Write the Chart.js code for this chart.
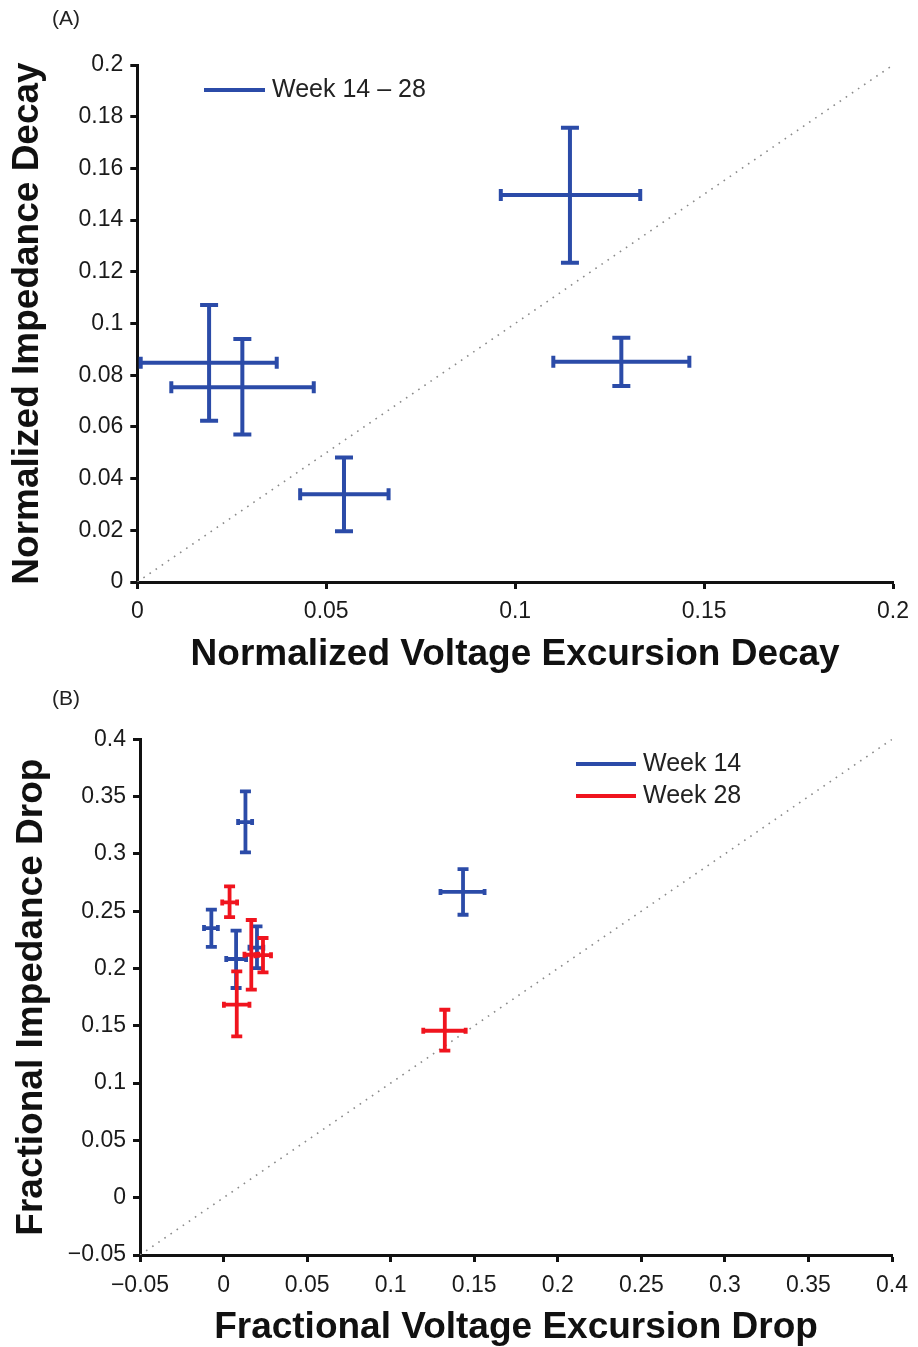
<!DOCTYPE html>
<html>
<head>
<meta charset="utf-8">
<script src="https://cdn.jsdelivr.net/npm/chart.js@4.4.1/dist/chart.umd.min.js"></script>
<style>
  body { margin: 0; background: #fff; width: 918px; height: 1347px; position: relative; overflow: hidden;
         font-family: "Liberation Sans", Arial, sans-serif; }
  canvas { position: absolute; left: 0; }
  .tag { position: absolute; left: 52px; font-size: 21px; color: #222; z-index: 2; }
</style>
</head>
<body>
<canvas id="chartA" width="918" height="690" style="top:0"></canvas>
<canvas id="chartB" width="918" height="657" style="top:690px"></canvas>
<div class="tag" style="top:6px">(A)</div>
<div class="tag" style="top:686px">(B)</div>
<script>
const FONT = '"Liberation Sans", Arial, sans-serif';
const BLUE = '#2b4ba8';
const RED = '#f0141e';

// Panel A - Week 14 - 28
const aLabel = 'Week 14 \u2013 28';
const aX    = [0.1145, 0.1281, 0.0190, 0.0278, 0.0547];
const aY    = [0.1497, 0.0852, 0.0848, 0.0753, 0.0339];
const aXLo  = [0.0962, 0.1101, 0.0009, 0.0090, 0.0431];
const aXHi  = [0.1331, 0.1461, 0.0369, 0.0467, 0.0665];
const aYLo  = [0.1235, 0.0758, 0.0624, 0.0571, 0.0196];
const aYHi  = [0.1757, 0.0945, 0.1072, 0.0940, 0.0482];

// Panel B - Week 14
const b14X   = [0.0131, 0.1433, -0.0073, 0.0075, 0.0200];
const b14Y   = [0.3278, 0.2668, 0.2353, 0.2083, 0.2182];
const b14XLo = [0.0087, 0.1298, -0.0117, 0.0016, 0.0155];
const b14XHi = [0.0171, 0.1562, -0.0034, 0.0135, 0.0238];
const b14YLo = [0.3013, 0.2469, 0.2188, 0.1830, 0.2004];
const b14YHi = [0.3545, 0.2868, 0.2513, 0.2330, 0.2367];

// Panel B - Week 28
const b28X   = [0.0036, 0.0166, 0.0236, 0.0079, 0.1324];
const b28Y   = [0.2577, 0.2120, 0.2116, 0.1684, 0.1457];
const b28XLo = [-0.0008, 0.0125, 0.0190, 0.0002, 0.1195];
const b28XHi = [0.0081, 0.0208, 0.0284, 0.0155, 0.1449];
const b28YLo = [0.2449, 0.1815, 0.1966, 0.1408, 0.1283];
const b28YHi = [0.2716, 0.2423, 0.2266, 0.1975, 0.1640];

// Axis ranges
const aRange = [0, 0.2];
const bRange = [-0.05, 0.4];

function toPoints(x, y, xLo, xHi, yLo, yHi) {
    return x.map((v, i) => ({ x: v, y: y[i], xMin: xLo[i], xMax: xHi[i], yMin: yLo[i], yMax: yHi[i] }));
}

function fmtTick(v) {
    return String(Math.round(v * 1000) / 1000).replace('-', '\u2212');
}

// Draw the crosses (x and y error bars with caps)
const errorBars = {
    id: 'errorBars',
    afterDatasetsDraw(chart, args, opts) {
        const ctx = chart.ctx;
        const xs = chart.scales.x, ys = chart.scales.y;
        chart.data.datasets.forEach(ds => {
            if (!ds.errorBars) return;
            ctx.save();
            ctx.strokeStyle = ds.borderColor;
            ctx.lineWidth = opts.width;
            ds.data.forEach(p => {
                const cx = xs.getPixelForValue(p.x), cy = ys.getPixelForValue(p.y);
                const x0 = xs.getPixelForValue(p.xMin), x1 = xs.getPixelForValue(p.xMax);
                const y0 = ys.getPixelForValue(p.yMin), y1 = ys.getPixelForValue(p.yMax);
                ctx.beginPath();
                ctx.moveTo(x0, cy); ctx.lineTo(x1, cy);
                ctx.moveTo(cx, y0); ctx.lineTo(cx, y1);
                ctx.moveTo(x0, cy - opts.capX); ctx.lineTo(x0, cy + opts.capX);
                ctx.moveTo(x1, cy - opts.capX); ctx.lineTo(x1, cy + opts.capX);
                ctx.moveTo(cx - opts.capY, y0); ctx.lineTo(cx + opts.capY, y0);
                ctx.moveTo(cx - opts.capY, y1); ctx.lineTo(cx + opts.capY, y1);
                ctx.stroke();
            });
            ctx.restore();
        });
    }
};

// Legend drawn inside the plot area
const insideLegend = {
    id: 'insideLegend',
    afterDraw(chart, args, opts) {
        const ctx = chart.ctx;
        ctx.save();
        ctx.font = opts.font;
        ctx.textBaseline = 'middle';
        ctx.fillStyle = '#222';
        let y = opts.y;
        chart.data.datasets.filter(d => d.errorBars).forEach(d => {
            ctx.strokeStyle = d.borderColor;
            ctx.lineWidth = opts.lineWidth;
            ctx.beginPath();
            ctx.moveTo(opts.x, y);
            ctx.lineTo(opts.x + opts.len, y);
            ctx.stroke();
            ctx.fillText(d.label, opts.x + opts.len + opts.gap, y);
            y += opts.step;
        });
        ctx.restore();
    }
};

function diagonal(range) {
    return {
        data: [{ x: range[0], y: range[0] }, { x: range[1], y: range[1] }],
        showLine: true,
        borderColor: '#8a8a8a',
        borderWidth: 1.6,
        borderDash: [1.6, 5.8],
        pointRadius: 0
    };
}

function series(label, color, points) {
    return { label: label, data: points, borderColor: color, backgroundColor: color, pointRadius: 0, errorBars: true };
}

function axis(range, step, title, o) {
    return {
        type: 'linear',
        min: range[0],
        max: range[1],
        ticks: { stepSize: step, font: { size: 23, family: FONT }, color: '#1a1a1a', padding: o.tickPad, callback: fmtTick },
        grid: { drawOnChartArea: false, drawTicks: true, tickLength: 7, tickWidth: 3, tickColor: '#111' },
        border: { display: true, color: '#111', width: 3 },
        title: { display: true, text: title, color: '#111', font: { size: 37, weight: 'bold', family: FONT }, padding: o.titlePad },
        afterFit: o.fit
    };
}

function makeChart(id, datasets, scales, padding, pluginOpts) {
    return new Chart(document.getElementById(id), {
        type: 'scatter',
        data: { datasets: datasets },
        options: {
            responsive: false,
            animation: false,
            devicePixelRatio: 1,
            events: [],
            layout: { padding: padding },
            scales: scales,
            plugins: Object.assign({ legend: { display: false }, tooltip: { enabled: false } }, pluginOpts)
        },
        plugins: [errorBars, insideLegend]
    });
}

makeChart('chartA',
    [diagonal(aRange), series(aLabel, BLUE, toPoints(aX, aY, aXLo, aXHi, aYLo, aYHi))],
    {
        x: axis(aRange, 0.05, 'Normalized Voltage Excursion Decay',
            { tickPad: 9, titlePad: { top: 0, bottom: 13 }, fit: s => { s.height = 108; } }),
        y: axis(aRange, 0.02, 'Normalized Impedance Decay',
            { tickPad: 7, titlePad: { top: 6, bottom: 0 }, fit: s => { s.width = 137.3; } })
    },
    { top: 65, right: 22, left: 0, bottom: 0 },
    {
        errorBars: { width: 4, capX: 6, capY: 9 },
        insideLegend: { x: 204, y: 90, len: 61, gap: 7, step: 32, lineWidth: 4, font: '25px ' + FONT }
    });

makeChart('chartB',
    [diagonal(bRange),
     series('Week 14', BLUE, toPoints(b14X, b14Y, b14XLo, b14XHi, b14YLo, b14YHi)),
     series('Week 28', RED, toPoints(b28X, b28Y, b28XLo, b28XHi, b28YLo, b28YHi))],
    {
        x: axis(bRange, 0.05, 'Fractional Voltage Excursion Drop',
            { tickPad: 10, titlePad: { top: 0, bottom: -3 }, fit: s => { s.height = 92; } }),
        y: axis(bRange, 0.05, 'Fractional Impedance Drop',
            { tickPad: 7, titlePad: { top: 10, bottom: 0 }, fit: s => { s.width = 140; } })
    },
    { top: 49.3, right: 21, left: 0, bottom: 0 },
    {
        errorBars: { width: 3.8, capX: 3, capY: 5.5 },
        insideLegend: { x: 576, y: 74, len: 60, gap: 7, step: 32, lineWidth: 4, font: '25px ' + FONT }
    });
</script>
</body>
</html>
